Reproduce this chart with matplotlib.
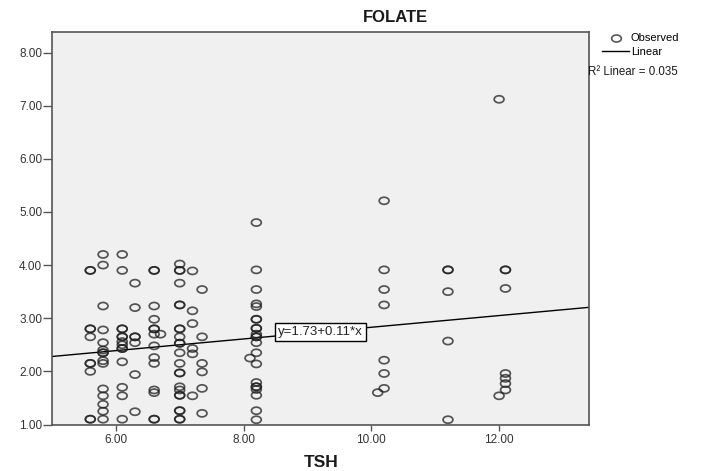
import matplotlib
matplotlib.use("Agg")
import matplotlib.pyplot as plt
import numpy as np
from matplotlib.path import Path
from matplotlib.lines import Line2D

plt.rcParams['font.family'] = ['Liberation Sans', 'DejaVu Sans']

# --- data (TSH on x, FOLATE on y) ---
tsh_levels = [5.6, 5.8, 6.1, 6.3, 6.6, 6.7, 7.0, 7.2, 7.35,
              8.1, 8.2, 10.1, 10.2, 11.2, 12.0, 12.1]
folate_by_level = [
    [3.9, 3.9, 2.8, 2.8, 2.65, 2.15, 2.15, 2.0, 1.1, 1.1],
    [4.2, 4.0, 3.23, 2.78, 2.54, 2.4, 2.35, 2.35, 2.2, 2.15, 1.67, 1.54, 1.38, 1.25, 1.1],
    [4.2, 3.9, 2.8, 2.8, 2.65, 2.65, 2.56, 2.5, 2.43, 2.43, 2.18, 1.7, 1.54, 1.1],
    [3.66, 3.2, 2.65, 2.65, 2.54, 1.94, 1.24],
    [3.9, 3.9, 3.23, 2.98, 2.8, 2.8, 2.7, 2.48, 2.26, 2.15, 1.65, 1.6, 1.1, 1.1],
    [2.7],
    [4.02, 3.9, 3.9, 3.66, 3.25, 3.25, 2.8, 2.8, 2.65, 2.53, 2.53, 2.35, 2.15,
     1.97, 1.97, 1.71, 1.65, 1.55, 1.55, 1.26, 1.26, 1.1, 1.1],
    [3.89, 3.14, 2.9, 2.43, 2.33, 1.54],
    [3.54, 2.65, 2.15, 1.99, 1.68, 1.21],
    [2.25],
    [4.8, 3.91, 3.54, 3.27, 3.22, 2.98, 2.98, 2.81, 2.81, 2.7, 2.65, 2.65, 2.54,
     2.35, 2.14, 1.79, 1.71, 1.71, 1.66, 1.55, 1.26, 1.09],
    [1.6],
    [5.21, 3.91, 3.54, 3.25, 2.21, 1.96, 1.68],
    [3.91, 3.91, 3.5, 2.57, 1.09],
    [7.12, 1.54],
    [3.91, 3.91, 3.56, 1.96, 1.87, 1.77, 1.65],
]
fit_intercept = 1.73
fit_slope = 0.11
fit_r2 = 0.035

tsh = np.concatenate([[t] * len(v) for t, v in zip(tsh_levels, folate_by_level)])
folate = np.concatenate(folate_by_level)

x_ticks = [6, 8, 10, 12]
y_ticks = [1, 2, 3, 4, 5, 6, 7, 8]

# SPSS circles are slightly squashed (flat ellipse)
circ = Path.unit_circle()
ellipse = Path(circ.vertices * np.array([1.0, 0.72]), circ.codes)

AXC = '#555555'
PT_COL = (0.12, 0.12, 0.12, 0.75)

fig = plt.figure(figsize=(7.07, 4.71), dpi=100)
ax = fig.add_axes([0.0735, 0.0987, 0.7589, 0.8327])
ax.set_facecolor('#f0f0f0')

ax.scatter(tsh, folate, s=50, marker=ellipse, facecolors='none',
           edgecolors=[PT_COL], linewidths=1.25, zorder=3)

xmin, xmax = 5.0, 13.4
xs = np.array([xmin, xmax])
ax.plot(xs, fit_intercept + fit_slope * xs, color='black', lw=1.0, zorder=2)

# equation label in the middle of the line
xm = (xmin + xmax) / 2
ax.text(xm, fit_intercept + fit_slope * xm, f"y={fit_intercept:.2f}+{fit_slope:.2f}*x",
        ha='center', va='center', fontsize=9.5, color='#222222', zorder=4,
        bbox=dict(boxstyle='square,pad=0.25', fc='white', ec='black', lw=1.0))

ax.set_xlim(xmin, xmax)
ax.set_ylim(1.0, 8.38)
ax.set_xticks(x_ticks)
ax.set_yticks(y_ticks)
ax.xaxis.set_major_formatter(plt.FormatStrFormatter('%.2f'))
ax.yaxis.set_major_formatter(plt.FormatStrFormatter('%.2f'))
ax.tick_params(axis='x', length=4.5, width=1.0, color=AXC, pad=2.5,
               labelsize=8.5, labelcolor='#333333')
ax.tick_params(axis='y', length=6.5, width=1.0, color=AXC, pad=0.5,
               labelsize=8.5, labelcolor='#333333')
for sp in ax.spines.values():
    sp.set_color(AXC)
    sp.set_linewidth(1.2)

fig.text(0.56, 0.962, "FOLATE", ha='center', va='center',
         fontsize=12, fontweight='bold', color='#1a1a1a')
fig.text(0.454, 0.018, "TSH", ha='center', va='center',
         fontsize=12.5, fontweight='bold', color='#1a1a1a')

# legend on the right
handles = [Line2D([], [], ls='none', marker=ellipse, ms=7, mfc='none',
                  mec=PT_COL, mew=1.2),
           Line2D([], [], color='black', lw=1.0)]
fig.legend(handles, ["Observed", "Linear"], loc='upper left',
           bbox_to_anchor=(0.852, 0.929), frameon=False, fontsize=8,
           handlelength=2.4, handletextpad=0.15, labelspacing=0.3,
           borderpad=0, borderaxespad=0)
fig.text(0.831, 1 - 72 / 471, f"R\u00b2 Linear = {fit_r2:.3f}",
         ha='left', va='center', fontsize=8.3, color='#1a1a1a')

fig.savefig("out.png", dpi=100)
